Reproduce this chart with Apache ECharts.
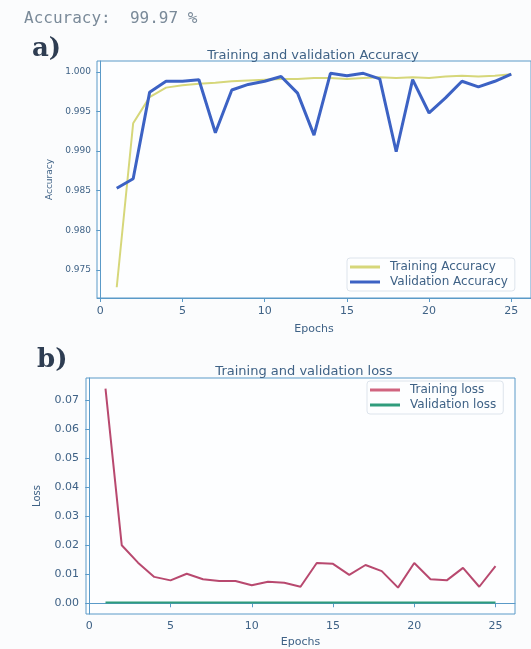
<!DOCTYPE html>
<html>
<head>
<meta charset="utf-8">
<script src="https://cdn.jsdelivr.net/npm/echarts@6/dist/echarts.min.js"></script>
<style>
html,body{margin:0;padding:0;background:#fbfcfd;}
#c{width:531px;height:649px;}
</style>
</head>
<body>
<div id="c"></div>
<script>
var epochs = [1,2,3,4,5,6,7,8,9,10,11,12,13,14,15,16,17,18,19,20,21,22,23,24,25];
var trainAcc = [0.9728,0.9935,0.9968,0.9980,0.9983,0.9985,0.9986,0.9988,0.9989,0.9990,0.9991,0.9991,0.9992,0.9992,0.9991,0.9992,0.9993,0.9992,0.9993,0.9992,0.9994,0.9995,0.9994,0.9995,0.9997];
var valAcc = [0.9853,0.9865,0.9974,0.9988,0.9988,0.9990,0.9923,0.9977,0.9984,0.9988,0.9994,0.9973,0.9920,0.9998,0.9995,0.9998,0.9991,0.9899,0.9990,0.9948,0.9967,0.9988,0.9981,0.9988,0.9997];
var trainLoss = [0.0740,0.0200,0.0140,0.0091,0.0079,0.0102,0.0083,0.0077,0.0077,0.0062,0.0074,0.0071,0.0057,0.0139,0.0136,0.0098,0.0132,0.0111,0.0054,0.0139,0.0083,0.0079,0.0122,0.0057,0.0128];
var valLoss = [0.0003,0.0003,0.0003,0.0003,0.0003,0.0003,0.0003,0.0003,0.0003,0.0003,0.0003,0.0003,0.0003,0.0003,0.0003,0.0003,0.0003,0.0003,0.0003,0.0003,0.0003,0.0003,0.0003,0.0003,0.0003];
var xTicks = [0,5,10,15,20,25];
var accTicks = [0.975,0.980,0.985,0.990,0.995,1.000];
var lossTicks = [0,0.01,0.02,0.03,0.04,0.05,0.06,0.07];

function pairs(vals){ return epochs.map(function(e,i){ return [e, vals[i]]; }); }

var axisCol = '#5a9ac8';
var txtCol = '#3f6286';
var chart = echarts.init(document.getElementById('c'));
chart.setOption({
  backgroundColor: '#fbfcfd',
  animation: false,
  title: [
    {text: 'Accuracy:  99.97 %', left: 19, top: 6, textStyle: {fontFamily: 'DejaVu Sans Mono', fontSize: 16, fontWeight: 'normal', color: '#7a8a99'}},
    {text: 'a)', left: 27, top: 31, textStyle: {fontFamily: 'DejaVu Serif', fontSize: 26, fontWeight: 'bold', color: '#2e3d52'}},
    {text: 'Training and validation Accuracy', left: 308, textAlign: 'center', top: 44, textStyle: {fontFamily: 'DejaVu Sans', fontSize: 13, fontWeight: 'normal', color: txtCol}},
    {text: 'b)', left: 32, top: 342, textStyle: {fontFamily: 'DejaVu Serif', fontSize: 26, fontWeight: 'bold', color: '#2e3d52'}},
    {text: 'Training and validation loss', left: 299, textAlign: 'center', top: 360, textStyle: {fontFamily: 'DejaVu Sans', fontSize: 13, fontWeight: 'normal', color: txtCol}}
  ],
  grid: [
    {left: 97, top: 61, width: 435, height: 237, show: true, borderColor: axisCol, borderWidth: 1, backgroundColor: '#fdfeff'},
    {left: 86, top: 378, width: 429, height: 239, show: true, borderColor: axisCol, borderWidth: 1, backgroundColor: '#fdfeff'}
  ],
  legend: [
    {data: ['Training Accuracy','Validation Accuracy'], orient: 'vertical', left: 347, top: 258, itemGap: 3, itemWidth: 30, itemHeight: 3, icon: 'rect',
     padding: [3,7,3,3], backgroundColor: '#fdfeff', borderColor: '#dde4ec', borderWidth: 1, borderRadius: 3,
     textStyle: {fontFamily: 'DejaVu Sans', fontSize: 12, color: txtCol, padding: [0,0,0,5]}},
    {data: ['Training loss','Validation loss'], orient: 'vertical', left: 367, top: 381, itemGap: 3, itemWidth: 30, itemHeight: 3, icon: 'rect',
     padding: [3,7,3,3], backgroundColor: '#fdfeff', borderColor: '#dde4ec', borderWidth: 1, borderRadius: 3,
     textStyle: {fontFamily: 'DejaVu Sans', fontSize: 12, color: txtCol, padding: [0,0,0,5]}}
  ],
  xAxis: [
    {type: 'value', gridIndex: 0, min: -0.2, max: 26.2, name: 'Epochs', nameLocation: 'middle', nameGap: 26,
     nameTextStyle: {fontFamily: 'DejaVu Sans', fontSize: 11, color: txtCol},
     axisLine: {show: true, lineStyle: {color: axisCol}}, axisTick: {show: true, length: 4, customValues: xTicks, lineStyle: {color: axisCol}},
     axisLabel: {customValues: xTicks, fontFamily: 'DejaVu Sans', fontSize: 11, color: txtCol, margin: 8}, splitLine: {show: false}},
    {type: 'value', gridIndex: 1, min: -0.2, max: 26.2, name: 'Epochs', nameLocation: 'middle', nameGap: 23,
     nameTextStyle: {fontFamily: 'DejaVu Sans', fontSize: 11, color: txtCol},
     axisLine: {show: true, lineStyle: {color: axisCol}}, axisTick: {show: true, length: 4, customValues: xTicks, lineStyle: {color: axisCol}},
     axisLabel: {customValues: xTicks, fontFamily: 'DejaVu Sans', fontSize: 11, color: txtCol, margin: 7}, splitLine: {show: false}}
  ],
  yAxis: [
    {type: 'value', gridIndex: 0, min: 0.97144, max: 1.00136, name: 'Accuracy', nameLocation: 'middle', nameGap: 28,
     nameTextStyle: {fontFamily: 'DejaVu Sans', fontSize: 9, color: txtCol},
     axisLine: {show: true, lineStyle: {color: axisCol}}, axisTick: {show: true, length: 4, customValues: accTicks, lineStyle: {color: axisCol}},
     axisLabel: {customValues: accTicks, formatter: function(v){ return v.toFixed(3); }, fontFamily: 'DejaVu Sans', fontSize: 9, color: txtCol, margin: 6},
     splitLine: {show: false}},
    {type: 'value', gridIndex: 1, min: -0.0037, max: 0.0777, name: 'Loss', nameLocation: 'middle', nameGap: 44,
     nameTextStyle: {fontFamily: 'DejaVu Sans', fontSize: 10, color: txtCol},
     axisLine: {show: true, lineStyle: {color: axisCol}}, axisTick: {show: true, length: 4, customValues: lossTicks, lineStyle: {color: axisCol}},
     axisLabel: {customValues: lossTicks, formatter: function(v){ return v.toFixed(2); }, fontFamily: 'DejaVu Sans', fontSize: 11, color: txtCol, margin: 7},
     splitLine: {show: false}}
  ],
  series: [
    {name: 'Training Accuracy', type: 'line', xAxisIndex: 0, yAxisIndex: 0, data: pairs(trainAcc), symbol: 'none',
     lineStyle: {color: '#d6d77a', width: 2}, itemStyle: {color: '#d6d77a'}},
    {name: 'Validation Accuracy', type: 'line', xAxisIndex: 0, yAxisIndex: 0, data: pairs(valAcc), symbol: 'none',
     lineStyle: {color: '#3c62c4', width: 3}, itemStyle: {color: '#3c62c4'}},
    {name: 'Training loss', type: 'line', xAxisIndex: 1, yAxisIndex: 1, data: pairs(trainLoss), symbol: 'none',
     lineStyle: {color: '#b8496f', width: 2}, itemStyle: {color: '#d0647f'}},
    {name: 'Validation loss', type: 'line', xAxisIndex: 1, yAxisIndex: 1, data: pairs(valLoss), symbol: 'none',
     lineStyle: {color: '#2f9c7c', width: 2}, itemStyle: {color: '#2f9c7c'}}
  ]
});
</script>
</body>
</html>
